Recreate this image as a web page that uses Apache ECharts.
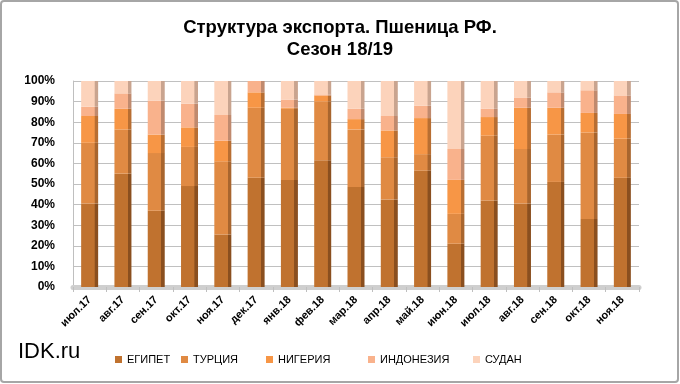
<!DOCTYPE html>
<html>
<head>
<meta charset="utf-8">
<script src="https://cdn.jsdelivr.net/npm/echarts@6/dist/echarts.min.js"></script>
<style>
html,body{margin:0;padding:0;background:#fff;}
#chart{width:680px;height:384px;}
</style>
</head>
<body>
<div id="chart"></div>
<script>
var categories = ['июл.17','авг.17','сен.17','окт.17','ноя.17','дек.17','янв.18','фев.18','мар.18','апр.18','май.18','июн.18','июл.18','авг.18','сен.18','окт.18','ноя.18'];
var egypt     = [40.5, 55, 37, 49, 25.5, 53, 52, 61.5, 48.5, 42.5, 56.5, 21, 42, 40.5, 51, 33, 53];
var turkey    = [29.5, 21.5, 28, 19, 35.5, 34, 34.5, 28.5, 28, 20.5, 8, 14.5, 31.5, 26.5, 23, 42, 19];
var nigeria   = [13, 10, 9, 9.5, 10, 7.5, 0.5, 3, 5, 13, 17.5, 16.5, 9, 20, 13, 9.5, 12];
var indonesia = [4.5, 7.5, 16.5, 11.5, 12.5, 5.5, 4, 0.5, 5, 7, 6, 15, 4, 5, 7.5, 11, 9];
var sudan     = [12.5, 6, 9.5, 11, 16.5, 0, 9, 6.5, 13.5, 17, 12, 33, 13.5, 8, 5.5, 4.5, 7];
var yTicks = [0,10,20,30,40,50,60,70,80,90,100];

var seriesNames = ['ЕГИПЕТ','ТУРЦИЯ','НИГЕРИЯ','ИНДОНЕЗИЯ','СУДАН'];
var seriesData = [egypt, turkey, nigeria, indonesia, sudan];
var mainColors = ['#c0722f','#e08a43','#f79646','#f9b28c','#fcd3bb'];
var sideColors = ['#8a4f1f','#a8652e','#b86e32','#c08a6e','#c9a48f'];
var legendLeft = [110, 176, 261, 363, 468];

function grad(i){
  return new echarts.graphic.LinearGradient(0,0,1,0,[
    {offset:0, color:mainColors[i]},
    {offset:0.78, color:mainColors[i]},
    {offset:0.8, color:sideColors[i]},
    {offset:1, color:sideColors[i]}
  ]);
}

var font = 'Arial, "Liberation Sans", sans-serif';

var series = seriesNames.map(function(n,i){
  return {
    name:n, type:'bar', stack:'total', barWidth:17,
    data: seriesData[i],
    itemStyle:{color:grad(i)},
    emphasis:{disabled:true}
  };
});

var legends = seriesNames.map(function(n,i){
  return {
    data:[{name:n, itemStyle:{color:mainColors[i]}}],
    left:legendLeft[i], top:349,
    itemWidth:7, itemHeight:7, icon:'rect', itemGap:6,
    textStyle:{fontFamily:font, fontSize:11, color:'#000'}
  };
});

var chart = echarts.init(document.getElementById('chart'));
chart.setOption({
  backgroundColor:'#fff',
  animation:false,
  title:{
    text:'Структура экспорта. Пшеница РФ.\nСезон 18/19',
    left:'center', top:12,
    textStyle:{fontFamily:font, fontSize:18.5, fontWeight:'bold', color:'#000', lineHeight:22}
  },
  legend: legends,
  grid:{left:73, right:41, top:81, bottom:97},
  xAxis:{
    type:'category', data:categories,
    axisLine:{show:true, lineStyle:{color:'#cfcfcf', width:5}},
    axisTick:{show:true, length:5, lineStyle:{color:'#bfbfbf'}},
    axisLabel:{rotate:45, interval:0, fontFamily:font, fontSize:11, fontWeight:'bold', color:'#000', margin:11}
  },
  yAxis:{
    type:'value', min:0, max:100, interval:10,
    axisLine:{show:true, lineStyle:{color:'#bfbfbf'}},
    axisTick:{show:false},
    splitLine:{lineStyle:{color:'#c0c0c0'}},
    axisLabel:{formatter:function(v){return yTicks.indexOf(v)>=0 ? v+'%' : '';}, fontFamily:font, fontSize:12, fontWeight:'bold', color:'#000', margin:18}
  },
  graphic:[
    {type:'rect', shape:{x:1, y:1, width:677, height:381, r:3}, style:{fill:null, stroke:'#a6a6a6', lineWidth:2}, silent:true},
    {type:'text', left:18, top:341, style:{text:'IDK.ru', font:'22px Arial, "Liberation Sans", sans-serif', fill:'#000'}}
  ],
  series: series
});
</script>
</body>
</html>
